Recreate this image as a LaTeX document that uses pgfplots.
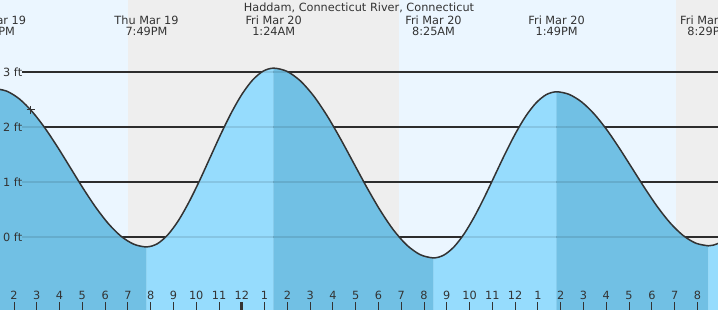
\documentclass[border=0pt]{standalone}
\usepackage{pgfplots}
\usepackage{pgfplotstable}
\pgfplotsset{compat=1.18}
\usepackage{fontspec}
\setmainfont{DejaVu Sans}
\definecolor{dayc}{RGB}{235,246,255}
\definecolor{nightc}{RGB}{238,238,238}
\definecolor{wdark}{RGB}{113,192,228}
\definecolor{wlight}{RGB}{150,220,253}
\definecolor{txt}{RGB}{51,51,51}
\newcommand\lab{\fontsize{11.3}{12.3}\selectfont}

\pgfplotstableread{
t h
13.130 2.700
13.687 2.651
14.245 2.507
14.802 2.278
15.359 1.980
15.916 1.633
16.474 1.260
17.031 0.887
17.588 0.540
18.145 0.242
18.702 0.013
19.260 -0.131
19.817 -0.180
}\segA
\pgfplotstableread{
t h
19.817 -0.180
20.282 -0.125
20.748 0.038
21.213 0.296
21.678 0.633
22.144 1.024
22.609 1.445
23.074 1.866
23.540 2.258
24.005 2.594
24.470 2.852
24.936 3.015
25.400 3.070
}\segB
\pgfplotstableread{
t h
25.400 3.070
25.985 3.011
26.569 2.839
27.154 2.565
27.739 2.208
28.324 1.792
28.909 1.345
29.493 0.899
30.078 0.483
30.663 0.125
31.248 -0.149
31.832 -0.321
32.417 -0.380
}\segC
\pgfplotstableread{
t h
32.417 -0.380
32.867 -0.329
33.317 -0.178
33.767 0.062
34.217 0.375
34.667 0.739
35.117 1.130
35.567 1.521
36.017 1.885
36.467 2.198
36.917 2.438
37.367 2.589
37.817 2.640
}\segD
\pgfplotstableread{
t h
37.817 2.640
38.372 2.592
38.928 2.452
39.483 2.230
40.039 1.940
40.594 1.602
41.150 1.240
41.706 0.878
42.261 0.540
42.817 0.250
43.372 0.028
43.928 -0.112
44.483 -0.160
}\segE
\pgfplotstableread{
t h
44.483 -0.160
44.700 -0.148
44.950 -0.110
}\segF
\pgfplotstableread{
t h
13.130 2.700
13.687 2.651
14.245 2.507
14.802 2.278
15.359 1.980
15.916 1.633
16.474 1.260
17.031 0.887
17.588 0.540
18.145 0.242
18.702 0.013
19.260 -0.131
19.817 -0.180
20.282 -0.125
20.748 0.038
21.213 0.296
21.678 0.633
22.144 1.024
22.609 1.445
23.074 1.866
23.540 2.258
24.005 2.594
24.470 2.852
24.936 3.015
25.400 3.070
25.985 3.011
26.569 2.839
27.154 2.565
27.739 2.208
28.324 1.792
28.909 1.345
29.493 0.899
30.078 0.483
30.663 0.125
31.248 -0.149
31.832 -0.321
32.417 -0.380
32.867 -0.329
33.317 -0.178
33.767 0.062
34.217 0.375
34.667 0.739
35.117 1.130
35.567 1.521
36.017 1.885
36.467 2.198
36.917 2.438
37.367 2.589
37.817 2.640
38.372 2.592
38.928 2.452
39.483 2.230
40.039 1.940
40.594 1.602
41.150 1.240
41.706 0.878
42.261 0.540
42.817 0.250
43.372 0.028
43.928 -0.112
44.483 -0.160
44.700 -0.148
44.950 -0.110
}\full

\begin{document}
\begin{tikzpicture}
\useasboundingbox (0,0) rectangle (718pt,310pt);
\clip (0,0) rectangle (718pt,310pt);
\begin{axis}[
  at={(0,0)}, anchor=south west,
  scale only axis, width=718pt, height=310pt,
  xmin=13.3854, xmax=44.904, ymin=-1.327, ymax=4.309,
  axis x line*=bottom, hide y axis,
  x axis line style={draw=none},
  axis on top=true,
  tick align=inside, major tick length=8pt,
  major tick style={draw=txt, line width=1pt},
  xtick={14,15,...,44},
  xticklabels={2,3,4,5,6,7,8,9,10,11,12,1,2,3,4,5,6,7,8,9,10,11,12,1,2,3,4,5,6,7,8},
  xticklabel style={anchor=base, yshift=10pt, font=\lab, text=txt},
  extra x ticks={24}, extra x tick labels={},
  extra x tick style={major tick style={draw=txt, line width=3pt}},
  /pgf/number format/assume math mode=true,
  clip=true,
]
% day / night bands
\addplot[fill=dayc, draw=none] coordinates {(13.0,-1.5) (13.0,4.5) (19.004,4.5) (19.004,-1.5)};
\addplot[fill=nightc, draw=none] coordinates {(19.004,-1.5) (19.004,4.5) (30.901,4.5) (30.901,-1.5)};
\addplot[fill=dayc, draw=none] coordinates {(30.901,-1.5) (30.901,4.5) (43.061,4.5) (43.061,-1.5)};
\addplot[fill=nightc, draw=none] coordinates {(43.061,-1.5) (43.061,4.5) (45.2,4.5) (45.2,-1.5)};
% level lines
\addplot[draw=txt, line width=1.2pt] coordinates {(14.35,3) (45,3)};
\addplot[draw=txt, line width=1.2pt] coordinates {(14.35,2) (45,2)};
\addplot[draw=txt, line width=1.2pt] coordinates {(14.35,1) (45,1)};
\addplot[draw=txt, line width=1.2pt] coordinates {(14.35,0) (45,0)};
% water
\addplot[smooth, fill=wdark, draw=wdark, line width=0.3pt] table[x=t,y=h] {\segA} -- (axis cs:19.817,-1.5) -- (axis cs:13.13,-1.5) -- cycle;
\addplot[smooth, fill=wlight, draw=wlight, line width=0.3pt] table[x=t,y=h] {\segB} -- (axis cs:25.4,-1.5) -- (axis cs:19.817,-1.5) -- cycle;
\addplot[smooth, fill=wdark, draw=wdark, line width=0.3pt] table[x=t,y=h] {\segC} -- (axis cs:32.417,-1.5) -- (axis cs:25.4,-1.5) -- cycle;
\addplot[smooth, fill=wlight, draw=wlight, line width=0.3pt] table[x=t,y=h] {\segD} -- (axis cs:37.817,-1.5) -- (axis cs:32.417,-1.5) -- cycle;
\addplot[smooth, fill=wdark, draw=wdark, line width=0.3pt] table[x=t,y=h] {\segE} -- (axis cs:44.483,-1.5) -- (axis cs:37.817,-1.5) -- cycle;
\addplot[smooth, fill=wlight, draw=wlight, line width=0.3pt] table[x=t,y=h] {\segF} -- (axis cs:44.95,-1.5) -- (axis cs:44.483,-1.5) -- cycle;
% faint level lines inside water
\addplot[draw=black, opacity=0.1, line width=1.2pt] coordinates {(14.35,3) (45,3)};
\addplot[draw=black, opacity=0.1, line width=1.2pt] coordinates {(14.35,2) (45,2)};
\addplot[draw=black, opacity=0.1, line width=1.2pt] coordinates {(14.35,1) (45,1)};
\addplot[draw=black, opacity=0.1, line width=1.2pt] coordinates {(14.35,0) (45,0)};
% tide curve
\addplot[smooth, draw=txt, line width=1.5pt] table[x=t,y=h] {\full};
% current time marker
\addplot[only marks, mark=+, mark size=4pt, mark options={draw=txt, line width=1pt}] coordinates {(14.73,2.31)};
% level labels
\node[anchor=west, inner sep=0pt, xshift=3pt, font=\lab, text=txt] at (axis cs:13.3854,3) {3 ft};
\node[anchor=west, inner sep=0pt, xshift=3pt, font=\lab, text=txt] at (axis cs:13.3854,2) {2 ft};
\node[anchor=west, inner sep=0pt, xshift=3pt, font=\lab, text=txt] at (axis cs:13.3854,1) {1 ft};
\node[anchor=west, inner sep=0pt, xshift=3pt, font=\lab, text=txt] at (axis cs:13.3854,0) {0 ft};
\end{axis}
\begin{scope}[every node/.style={font=\lab, text=txt, anchor=base, inner sep=0pt}]
\node at (359pt,298pt) {Haddam, Connecticut River, Connecticut};
\node at (-6pt,285.7pt) {Thu Mar 19};
\node at (-6pt,274pt) {1:08PM};
\node at (146.5pt,285.7pt) {Thu Mar 19};
\node at (146.5pt,274pt) {7:49PM};
\node at (273.7pt,285.7pt) {Fri Mar 20};
\node at (273.7pt,274pt) {1:24AM};
\node at (433.5pt,285.7pt) {Fri Mar 20};
\node at (433.5pt,274pt) {8:25AM};
\node at (556.6pt,285.7pt) {Fri Mar 20};
\node at (556.6pt,274pt) {1:49PM};
\node at (708.4pt,285.7pt) {Fri Mar 20};
\node at (708.4pt,274pt) {8:29PM};
\end{scope}
\end{tikzpicture}
\end{document}
